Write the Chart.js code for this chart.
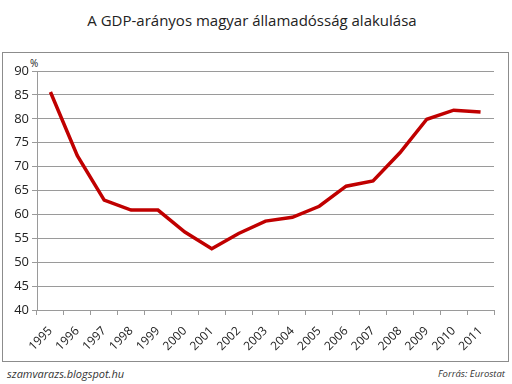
<!DOCTYPE html>
<html>
<head>
<meta charset="utf-8">
<script src="https://cdn.jsdelivr.net/npm/chart.js@4"></script>
<style>
  html, body { margin: 0; padding: 0; background: #fff; }
  #wrap { position: relative; width: 512px; height: 384px; overflow: hidden; font-family: 'Open Sans', sans-serif; }
  #frame { position: absolute; left: 2px; top: 52px; width: 505px; height: 308px; border: 1px solid #8c8c8c; }
  #title { position: absolute; left: 0; top: 10px; width: 504px; text-align: center; font-size: 15px; color: #222; }
  #pct { position: absolute; left: 30px; top: 56px; font-size: 10px; color: #222; }
  .foot { position: absolute; top: 366px; font-style: italic; color: #333; }
  #src { left: 7px; font-size: 11px; }
  #credit { right: 7px; font-size: 9.5px; top: 367px; }
  canvas { position: absolute; left: 0; top: 0; }
</style>
</head>
<body>
<div id="wrap">
  <div id="frame"></div>
  <div id="title">A GDP-arányos magyar államadósság alakulása</div>
  <div id="pct">%</div>
  <div class="foot" id="src">szamvarazs.blogspot.hu</div>
  <div class="foot" id="credit">Forrás: Eurostat</div>
  <canvas id="debtChart" width="512" height="384"></canvas>
</div>
<script>
document.addEventListener('DOMContentLoaded', () => {
  const red = '#c00000';
  const gridGrey = '#9a9a9a';

  const years = ['1995', '1996', '1997', '1998', '1999', '2000', '2001', '2002', '2003',
    '2004', '2005', '2006', '2007', '2008', '2009', '2010', '2011'];
  const debtPct = [85.6, 72.3, 63.0, 60.9, 60.9, 56.3, 52.8, 56.0, 58.6,
    59.4, 61.7, 65.9, 67.0, 72.9, 79.9, 81.8, 81.4];
  const yMin = 40, yMax = 90, yStep = 5;

  new Chart(document.getElementById('debtChart'), {
    type: 'line',
    data: {
      labels: years,
      datasets: [{
        label: 'Államadósság (% GDP)',
        data: debtPct,
        borderColor: red,
        borderWidth: 3.5,
        pointRadius: 0,
        tension: 0,
        fill: false
      }]
    },
    options: {
      responsive: false,
      animation: false,
      layout: { padding: { top: 71, right: 18, bottom: 0, left: 0 } },
      plugins: { legend: { display: false }, tooltip: { enabled: false } },
      scales: {
        x: {
          offset: true,
          afterFit: s => { s.height = 74; },
          border: { color: gridGrey },
          grid: { drawOnChartArea: false, offset: true, tickLength: 5, color: gridGrey },
          ticks: {
            minRotation: 45, maxRotation: 45, padding: 9,
            color: '#222', font: { family: 'Open Sans', size: 12 }
          }
        },
        y: {
          min: yMin, max: yMax,
          afterFit: s => { s.width = 37; },
          border: { color: gridGrey },
          grid: { color: gridGrey, tickLength: 5 },
          ticks: {
            stepSize: yStep, padding: 3,
            color: '#222', font: { family: 'Open Sans', size: 13 }
          }
        }
      }
    }
  });
});
</script>
</body>
</html>
